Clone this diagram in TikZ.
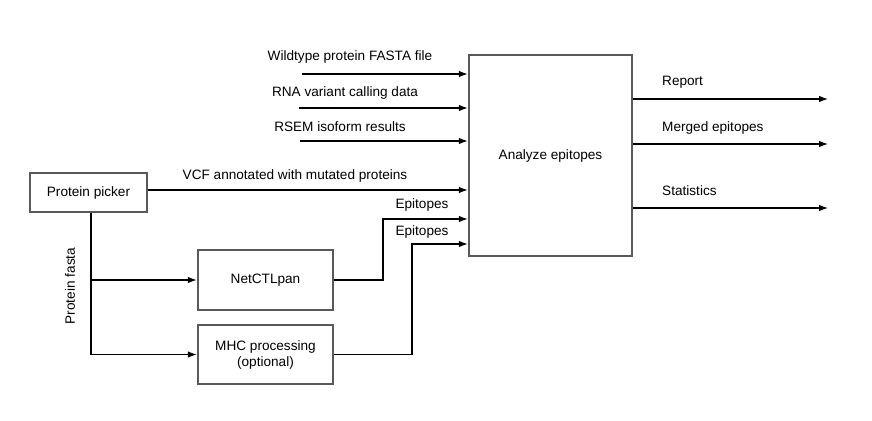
\documentclass[tikz,border=0pt]{standalone}
\usepackage{fontspec}
\setmainfont{Liberation Sans}
\usetikzlibrary{arrows.meta}

\tikzset{
  stage/.style={draw=black!65, line width=2.4pt, fill=white, align=center, inner sep=0pt},
  arr/.style={-{Latex[length=9pt,width=6.5pt]}, line width=1.1pt},
  lbl/.style={inner sep=0pt},
  every node/.style={font=\fontsize{13.6}{16}\selectfont}
}

\begin{document}
\begin{tikzpicture}[x=1pt,y=-1pt]
        \useasboundingbox (0,0) rectangle (872,420);

        % Stages
        \node[stage, minimum width=117pt, minimum height=39pt] (picker) at (88.5,192.5) {Protein picker};
        \node[stage, minimum width=163pt, minimum height=201pt] (analyze) at (550.5,155.5) {Analyze epitopes};
        \node[stage, minimum width=135pt, minimum height=60pt] (netctl) at (265.5,280) {NetCTLpan};
        \node[stage, minimum width=135pt, minimum height=59pt] (mhc) at (265.5,354.5) {MHC processing\\(optional)};

        % Inputs to analysis
        \coordinate (wt) at (302,74);
        \coordinate (rna) at (299,108);
        \coordinate (rsem) at (300,141);
        \draw[arr] (wt) -- (wt -| analyze.west);
        \draw[arr] (rna) -- (rna -| analyze.west);
        \draw[arr] (rsem) -- (rsem -| analyze.west);
        \node[lbl] (wtlabel) at (350,57) {Wildtype protein FASTA file};
        \node[lbl] (rnalabel) at (345,93) {RNA variant calling data};
        \node[lbl] (rsemlabel) at (340,127) {RSEM isoform results};

        % Protein picker output
        \coordinate (vcf) at (148,190);
        \draw[arr] (picker.east |- vcf) -- (vcf -| analyze.west);
        \node[lbl] (vcflabel) at (295,176) {VCF annotated with mutated proteins};

        % Protein fasta to predictors
        \draw[arr] ([xshift=2.5pt]picker.south) |- (netctl.west);
        \draw[arr] ([xshift=2.5pt]picker.south) |- (mhc.west);
        \node[lbl, rotate=90] (fastalabel) at (70,286) {Protein fasta};

        % Epitopes to analysis
        \coordinate (bend1) at (383,219);
        \coordinate (bend2) at (412,244);
        \draw[arr] (netctl.east) -| (bend1) -- (bend1 -| analyze.west);
        \draw[arr] (mhc.east) -| (bend2) -- (bend2 -| analyze.west);
        \node[lbl] (ep1label) at (422,205) {Epitopes};
        \node[lbl] (ep2label) at (422,232) {Epitopes};

        % Outputs
        \coordinate (report) at (828,99);
        \coordinate (merged) at (828,144);
        \coordinate (stats) at (828,208);
        \draw[arr] (analyze.east |- report) -- (report);
        \draw[arr] (analyze.east |- merged) -- (merged);
        \draw[arr] (analyze.east |- stats) -- (stats);
        \node[lbl, anchor=west] (reportlabel) at (662,82) {Report};
        \node[lbl, anchor=west] (mergedlabel) at (662,128) {Merged epitopes};
        \node[lbl, anchor=west] (statslabel) at (662,191) {Statistics};
    \end{tikzpicture}
\end{document}
